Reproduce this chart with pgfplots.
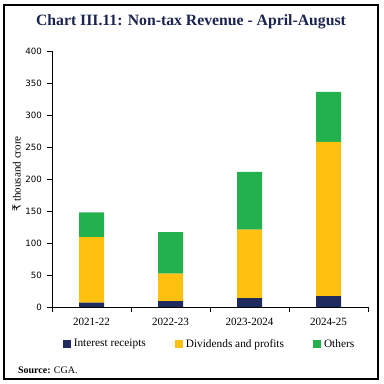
\documentclass[border=0pt]{standalone}
\usepackage{pgfplots}
\pgfplotsset{compat=1.18}
\usepackage{fontspec}
\setmainfont{Liberation Serif}
\newfontfamily\tickfont{DejaVu Sans}
\newfontfamily\rupee{DejaVu Sans}
\definecolor{navy}{HTML}{1F2A5E}
\definecolor{gold}{HTML}{FFC010}
\definecolor{grn}{HTML}{22B14C}
\definecolor{titlec}{HTML}{1B2550}
\begin{document}
\begin{tikzpicture}
\useasboundingbox (-39pt,-57.75pt) rectangle (248.25pt,230.25pt);
\draw[black, line width=0.8pt] (-36pt,-54pt) rectangle (244.5pt,226.5pt);
\begin{axis}[
  at={(0pt,0pt)}, anchor=south west,
  scale only axis, width=237pt, height=192pt,
  ybar stacked, bar width=18.75pt,
  xmin=-0.5, xmax=3.5, ymin=0, ymax=400,
  axis lines=left, axis line style={-, line width=0.6pt},
  xtick={-0.5,0.5,1.5,2.5,3.5}, xticklabels={},
  extra x ticks={0,1,2,3}, extra x tick labels={2021-22,2022-23,2023-2024,2024-25},
  extra x tick style={major tick length=0pt, xticklabel style={font=\fontsize{8.3}{9}\selectfont, yshift=-5pt}},
  ytick={0,50,...,400},
  tick align=outside, major tick length=4pt,
  tick style={black, line width=0.6pt},
  yticklabel style={font=\tickfont\fontsize{6.5}{8}\selectfont},
  /pgf/number format/assume math mode=true,
  ylabel={{\rupee ₹} thousand crore},
  every axis y label/.style={at={(axis description cs:-0.112,0.52)}, rotate=90, anchor=center, font=\fontsize{8.3}{9}\selectfont},
  legend style={draw=none, at={(0.5,-0.145)}, anchor=center, legend columns=3,
    font=\fontsize{8.5}{9}\selectfont, /tikz/every even column/.append style={column sep=20pt}},
  legend image code/.code={\fill[#1] (0pt,-3pt) rectangle (6pt,3pt);},
  clip=false,
]
\addplot[fill=navy, draw=none] coordinates {(0,7) (1,9) (2,14) (3,17)};
\addplot[fill=gold, draw=none] coordinates {(0,102) (1,43) (2,107) (3,241)};
\addplot[fill=grn, draw=none] coordinates {(0,39) (1,65) (2,90) (3,78)};
\legend{Interest receipts, Dividends and profits, Others}
\end{axis}
\node[font=\bfseries\fontsize{11.8}{14}\selectfont, text=titlec] at (104.25pt,213.75pt) {Chart III.11: Non-tax Revenue - April-August};
\node[anchor=west, font=\fontsize{7.5}{8}\selectfont] at (-29pt,-47.25pt) {\textbf{Source:} CGA.};
\end{tikzpicture}
\end{document}
